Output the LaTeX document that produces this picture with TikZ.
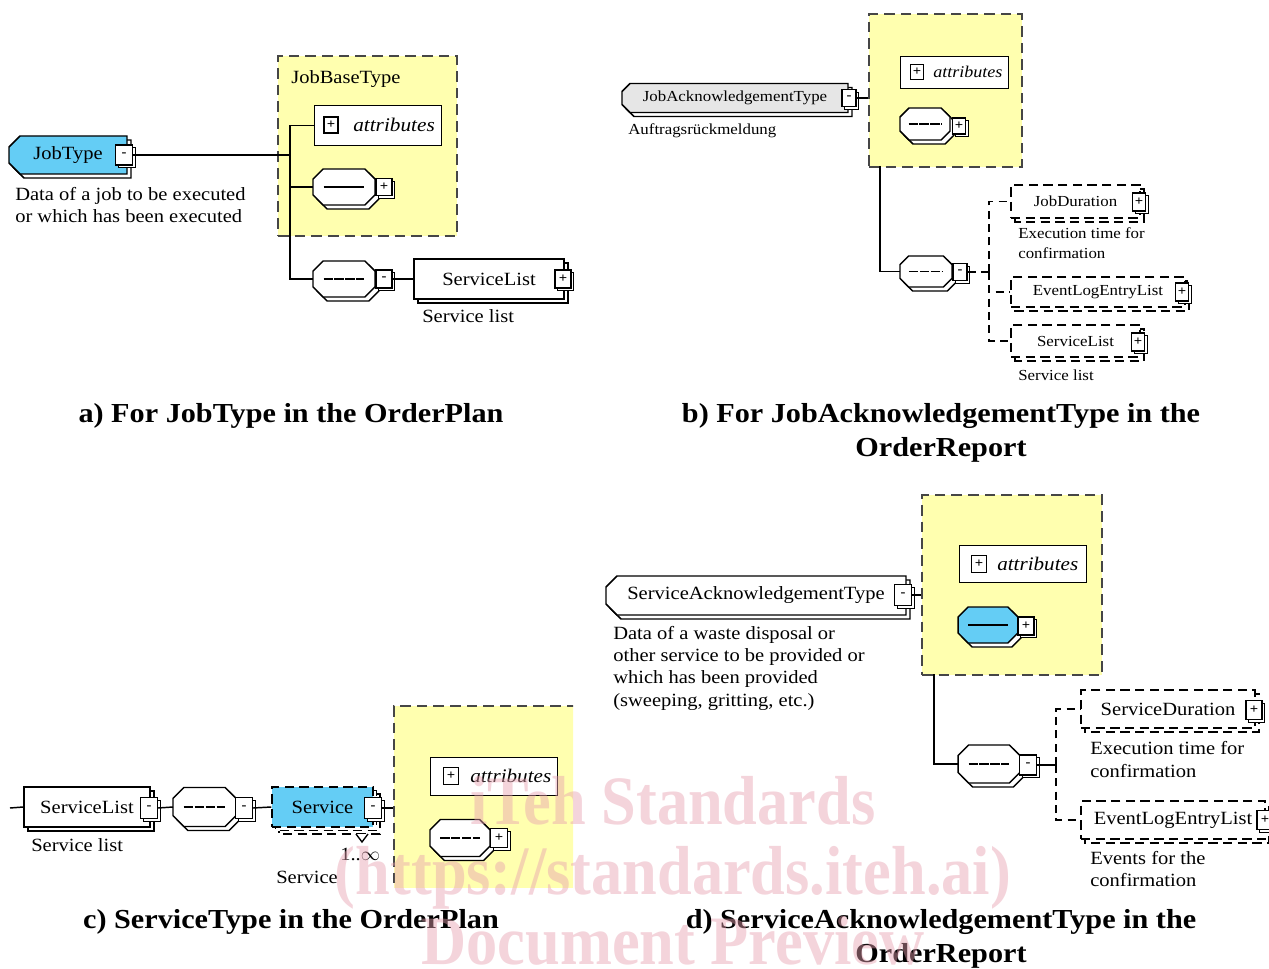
\documentclass[tikz,border=0pt]{standalone}
\usepackage{fontspec}
\setmainfont{Liberation Serif}[FakeStretch=1.1]
\newfontfamily\wmfont{Liberation Serif}[FakeStretch=0.9]
\usetikzlibrary{calc}

\definecolor{elblue}{RGB}{100,205,245}
\definecolor{grpyellow}{RGB}{255,255,175}
\definecolor{elgray}{RGB}{230,230,230}
\definecolor{grpedge}{RGB}{70,70,70}
\definecolor{wmpink}{RGB}{232,160,176}

\tikzset{
  pw/.style={minimum width={(#1)*0.75pt}},
  ph/.style={minimum height={(#1)*0.75pt}},
  elline/.style={draw=black, line width=1.1pt, line join=miter},
  eldash/.style={dash pattern=on 7pt off 4pt},
  grp/.style={draw=grpedge, fill=grpyellow, line width=1.3pt, dash pattern=on 8pt off 4.5pt, inner sep=0, anchor=north west},
  anchorbox/.style={inner sep=0, outer sep=0},
  sqbtn/.style={draw=black, fill=white, line width=0.9pt, inner sep=0, font=\fontsize{10}{10}\selectfont\bfseries},
  attrbox/.style={draw=black, fill=white, line width=0.9pt, inner sep=0, anchor=north west},
  conn/.style={line width=1.1pt},
  dconn/.style={line width=1.1pt, dash pattern=on 6pt off 4pt},
  seqdots/.style={dash pattern=on 7pt off 1.2pt},
  lbl/.style={inner sep=0, anchor=west},
  desc/.style={inner sep=0, anchor=base west, align=left},
  caption/.style={inner sep=0, align=center, font=\fontsize{20.6}{25.5}\selectfont\bfseries},
  wm/.style={inner sep=0, anchor=base, text=wmpink, font=\fontsize{52}{70}\wmfont\bfseries},
}

% octagon (compositor) outline: cx, cy, w, h, style
\newcommand\octshape[5]{%
  \draw[#5] (#1-#3/2+#4*0.28,#2-#4/2) -- (#1+#3/2-#4*0.28,#2-#4/2) -- (#1+#3/2,#2-#4/2+#4*0.28)
    -- (#1+#3/2,#2+#4/2-#4*0.28) -- (#1+#3/2-#4*0.28,#2+#4/2) -- (#1-#3/2+#4*0.28,#2+#4/2)
    -- (#1-#3/2,#2+#4/2-#4*0.28) -- (#1-#3/2,#2-#4/2+#4*0.28) -- cycle;}
% type outline, chamfered on the left: cx, cy, w, h, chamfer, style
\newcommand\tshape[6]{%
  \draw[#6] (#1-#3/2+#5,#2-#4/2) -- (#1+#3/2,#2-#4/2) -- (#1+#3/2,#2+#4/2)
    -- (#1-#3/2+#5,#2+#4/2) -- (#1-#3/2,#2+#4/2-#5) -- (#1-#3/2,#2-#4/2+#5) -- cycle;}
% element box with a shadow copy: name, cx, cy, w, h, style, text
\newcommand\elem[7]{%
  \draw[elline, #6, fill=white] (#2-#4/2+4,#3-#5/2+4) rectangle (#2+#4/2+4,#3+#5/2+4);
  \node[elline, fill=white, #6, pw=#4, ph=#5, inner sep=0] (#1) at (#2,#3) {#7};}
% complex type: name, cx, cy, w, h, chamfer, fill, text
\newcommand\typeelem[8]{%
  \tshape{#2+4}{#3+4}{#4}{#5}{#6}{elline, fill=white}
  \tshape{#2}{#3}{#4}{#5}{#6}{elline, fill=#7}
  \node[anchorbox, pw=#4, ph=#5] (#1) at (#2,#3) {#8};}
% sequence compositor: name, cx, cy, w, h, fill, symbol style
\newcommand\compo[7]{%
  \octshape{#2+4}{#3+4}{#4}{#5}{elline, fill=white}
  \octshape{#2}{#3}{#4}{#5}{elline, fill=#6}
  \node[anchorbox, pw=#4, ph=#5] (#1) at (#2,#3) {};
  \draw[line width=1.1pt, #7] (#2-#4*0.33,#3) -- (#2+#4*0.33,#3);}
% expand/collapse button: name, cx, cy, w, h, symbol
\newcommand\btn[6]{%
  \draw[line width=0.6pt, fill=white] (#2-#4/2+2.5,#3-#5/2+2.5) rectangle (#2+#4/2+2.5,#3+#5/2+2.5);
  \node[sqbtn, pw=#4, ph=#5] (#1) at (#2,#3) {#6};}

\begin{document}
\begin{tikzpicture}[x=0.75pt,y=-0.75pt]
\useasboundingbox (0,0) rectangle (1269,969);
\fill[white] (0,0) rectangle (1269,969);

% ---------------- a) JobType ----------------
\begin{scope}[font=\fontsize{14}{16.5}\selectfont]
\node[grp, pw=179, ph=180] (aGrp) at (277,55) {};
\node[lbl] (aGrpName) at (291,79) {JobBaseType};
\typeelem{aJob}{68}{155}{118}{38}{11}{elblue}{JobType}
\btn{aJobB}{124}{155}{17}{20}{-}
\node[desc] (aJobD) at (15,223) {Data of a job to be executed\\or which has been executed};
\coordinate (aBus) at (290,155);
\node[attrbox, pw=127, ph=40] (aAttr) at (314,105) {};
\node[sqbtn, pw=14, ph=16] (aAttrB) at (331,125) {+};
\node[lbl, font=\fontsize{14.5}{16}\selectfont\itshape] (aAttrT) at (353,125) {attributes};
\compo{aSeq1}{344}{187}{62}{36}{white}{}
\btn{aSeq1B}{384}{187}{16}{17}{+}
\compo{aSeq2}{344}{279}{62}{36}{white}{seqdots}
\btn{aSeq2B}{384}{279}{16}{18}{-}
\elem{aSL}{489}{279}{150}{40}{}{ServiceList}
\btn{aSLB}{563}{279}{16}{18}{+}
\node[lbl] (aSLD) at (422,316) {Service list};
\draw[conn] (aJobB.east) -- (aBus);
\draw[conn] (aBus) |- (aAttr.west);
\draw[conn] (aBus) |- (aSeq1.west);
\draw[conn] (aBus) |- (aSeq2.west);
\draw[conn] (aSeq2B.east) -- (aSL.west);
\end{scope}

% ---------------- b) JobAcknowledgementType ----------------
\begin{scope}[font=\fontsize{11.5}{15}\selectfont]
\node[grp, pw=153, ph=153] (bGrp) at (868,13) {};
\typeelem{bJob}{735}{98}{226}{29}{8}{elgray}{JobAcknowledgementType}
\btn{bJobB}{849}{98}{14}{17}{-}
\node[lbl] (bJobD) at (628,131) {Auftragsrückmeldung};
\draw[conn] (bJobB.east) -- (bJobB.east -| bGrp.west);
\node[attrbox, pw=108, ph=32] (bAttr) at (900,56) {};
\node[sqbtn, pw=13, ph=15] (bAttrB) at (917,72) {+};
\node[lbl, font=\fontsize{12.3}{14}\selectfont\itshape] (bAttrT) at (933,72) {attributes};
\compo{bSeq1}{925}{124}{50}{32}{white}{seqdots}
\btn{bSeq1B}{959}{126}{13}{16}{+}
\coordinate (bDrop) at (880,166);
\compo{bSeq2}{926}{271.5}{52}{31}{white}{seqdots}
\btn{bSeq2B}{960}{272}{14}{17}{-}
\draw[conn] (bDrop) |- (bSeq2.west);
\coordinate (bBus) at (989,272);
\draw[dconn] (bSeq2B.east) -- (bBus);
\elem{bJD}{1075.5}{201.5}{129}{33}{eldash}{JobDuration}
\btn{bJDB}{1139}{202}{13}{18}{+}
\node[desc] (bJDD) at (1018,259) {Execution time for\\confirmation};
\elem{bEL}{1098}{292}{174}{30}{eldash}{EventLogEntryList}
\btn{bELB}{1182}{292}{13}{18}{+}
\elem{bSL}{1075.5}{341}{129}{32}{eldash}{ServiceList}
\btn{bSLB}{1138}{342}{13}{18}{+}
\begin{scope}
\clip (1000,360) rectangle (1200,382);
\node[lbl] (bSLD) at (1018,375) {Service list};
\end{scope}
\draw[dconn] (bBus) |- (bJD.west);
\draw[dconn] (bBus) |- (bEL.west);
\draw[dconn] (bBus) |- (bSL.west);
\end{scope}

% ---------------- c) ServiceType ----------------
\begin{scope}[font=\fontsize{14}{16.5}\selectfont]
\begin{scope}
\clip (380,690) rectangle (573,887);
\node[grp, pw=200, ph=200] (cGrp) at (393,705) {};
\end{scope}
\coordinate (cIn) at (10,808);
\elem{cSL}{87}{807}{126}{40}{}{ServiceList}
\btn{cSLB}{149}{808}{17}{21}{-}
\node[lbl] (cSLD) at (31,845) {Service list};
\compo{cSeq}{204.5}{807}{63}{39}{white}{seqdots}
\btn{cSeqB}{244}{808}{17}{21}{-}
% repeated element: two stacked copies behind
\draw[elline, eldash, fill=white] (272+7,787+7) rectangle (373+7,827+7);
\draw[elline, eldash, fill=white] (272+3.5,787+3.5) rectangle (373+3.5,827+3.5);
\node[elline, eldash, fill=elblue, pw=101, ph=40, inner sep=0] (cSv) at (322.5,807) {Service};
\btn{cSvB}{373}{808}{17}{21}{-}
\draw[line width=1pt, fill=white] (356,834) -- (362,842) -- (368,834);
\node[lbl] (cSvM) at (340,854) {1..$\infty$};
\node[lbl] (cSvD) at (276,877) {Service};
\draw[conn] (cIn) -- (cSL.west);
\draw[conn] (cSLB.east) -- (cSeq.west);
\draw[conn] (cSeqB.east) -- (cSv.west);
\draw[conn] (cSvB.east) -- (cSvB.east -| cGrp.west);
\node[attrbox, pw=127, ph=38] (cAttr) at (430,757) {};
\node[sqbtn, pw=15, ph=17] (cAttrB) at (451,776) {+};
\node[lbl, font=\fontsize{14.4}{16}\selectfont\itshape] (cAttrT) at (470,776) {attributes};
\compo{cSeq1}{460}{838}{60}{37}{white}{seqdots}
\btn{cSeq1B}{499}{838}{17}{19}{+}
\end{scope}

% ---------------- d) ServiceAcknowledgementType ----------------
\begin{scope}[font=\fontsize{14}{16.75}\selectfont]
\node[grp, pw=180, ph=180] (dGrp) at (921,494) {};
\typeelem{dSA}{756}{595.5}{300}{39}{11}{white}{ServiceAcknowledgementType}
\btn{dSAB}{903}{595}{17}{21}{-}
\draw[conn] (dSAB.east) -- (dSAB.east -| dGrp.west);
\node[desc] (dSAD) at (613,706) {Data of a waste disposal or\\other service to be provided or\\which has been provided\\(sweeping, gritting, etc.)};
\node[attrbox, pw=127, ph=37] (dAttr) at (959,545) {};
\node[sqbtn, pw=15, ph=17] (dAttrB) at (979,564) {+};
\node[lbl, font=\fontsize{14.4}{16}\selectfont\itshape] (dAttrT) at (997,564) {attributes};
\compo{dSeq1}{988}{625}{60}{36}{elblue}{}
\btn{dSeq1B}{1026}{626}{16}{18}{+}
\coordinate (dDrop) at (934,674);
\compo{dSeq2}{989}{764}{62}{38}{white}{seqdots}
\btn{dSeq2B}{1028}{765}{17}{20}{-}
\draw[conn] (dDrop) |- (dSeq2.west);
\coordinate (dBus) at (1056,765);
\draw[conn] (dSeq2B.east) -- (dBus);
\elem{dSD}{1168}{709}{174}{38}{eldash}{ServiceDuration}
\btn{dSDB}{1254}{710}{16}{19}{+}
\node[desc, font=\fontsize{14}{17}\selectfont] (dSDD) at (1090,777) {Execution time for\\confirmation};
\elem{dEL}{1173}{820}{184}{38}{eldash}{EventLogEntryList}
\btn{dELB}{1265}{820}{16}{19}{+}
\begin{scope}
\clip (1080,840) rectangle (1269,887);
\node[desc, font=\fontsize{14}{16.5}\selectfont] (dELD) at (1090,886) {Events for the\\confirmation};
\end{scope}
\draw[dconn] (dBus) |- (dSD.west);
\draw[dconn] (dBus) |- (dEL.west);
\end{scope}

% ---------------- captions ----------------
\node[caption] (capA) at (291,416) {a) For JobType in the OrderPlan};
\node[caption] (capB) at (941,433) {b) For JobAcknowledgementType in the\\OrderReport};
\node[caption] (capC) at (291,922) {c) ServiceType in the OrderPlan};
\node[caption] (capD) at (941,939) {d) ServiceAcknowledgementType in the\\OrderReport};

% ---------------- watermark ----------------
\begin{scope}[opacity=0.45]
\node[wm] (wm1) at (673,824) {iTeh Standards};
\node[wm] (wm2) at (673,894) {(https://standards.iteh.ai)};
\node[wm] (wm3) at (673,964) {Document Preview};
\end{scope}
\end{tikzpicture}
\end{document}
